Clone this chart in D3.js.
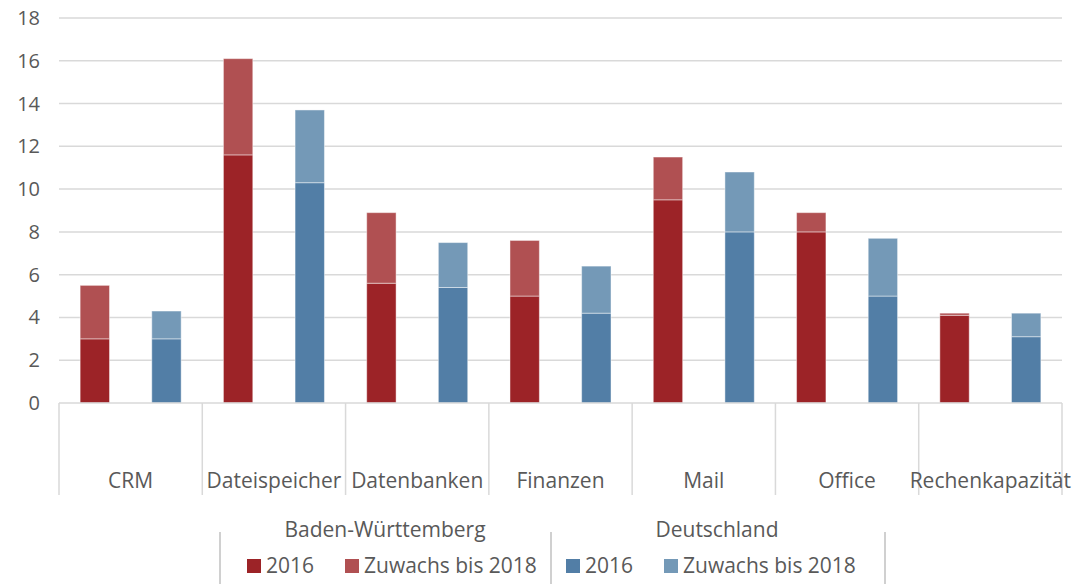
<!DOCTYPE html>
<html>
<head>
<meta charset="utf-8">
<script src="https://cdn.jsdelivr.net/npm/d3@7"></script>
<style>
  body { margin: 0; background: #fff; }
  text { font-family: "Open Sans", "Noto Sans", sans-serif; fill: #595959; }
</style>
</head>
<body>
<div id="chart"></div>
<script>
const categories = ['CRM', 'Dateispeicher', 'Datenbanken', 'Finanzen', 'Mail', 'Office', 'Rechenkapazität']
const bw2016 = [3.0, 11.6, 5.6, 5.0, 9.5, 8.0, 4.1]
const bwZuwachs = [2.5, 4.5, 3.3, 2.6, 2.0, 0.9, 0.1]
const de2016 = [3.0, 10.3, 5.4, 4.2, 8.0, 5.0, 3.1]
const deZuwachs = [1.3, 3.4, 2.1, 2.2, 2.8, 2.7, 1.1]
const yTicks = [0, 2, 4, 6, 8, 10, 12, 14, 16, 18]

const groups = [
  { id: 'bw', label: 'Baden-Württemberg', base: bw2016, growth: bwZuwachs, colors: ['#9c2327', '#b05052'] },
  { id: 'de', label: 'Deutschland', base: de2016, growth: deZuwachs, colors: ['#527ea6', '#7499b7'] }
]

const width = 1073, height = 584
const margin = { top: 18, right: 11, bottom: 181, left: 59 }

const svg = d3.select('#chart')
  .append('svg')
  .attr('width', width)
  .attr('height', height)

const x = d3.scaleBand()
  .domain(categories)
  .range([margin.left, width - margin.right])

const xInner = d3.scaleBand()
  .domain(groups.map(g => g.id))
  .range([0, x.bandwidth()])
  .paddingInner(0.59)
  .paddingOuter(0.295)

const y = d3.scaleLinear()
  .domain([0, 18])
  .range([height - margin.bottom, margin.top])

// grid
svg.append('g')
  .selectAll('line')
  .data(yTicks.slice(1))
  .join('line')
  .attr('x1', margin.left)
  .attr('x2', width - margin.right)
  .attr('y1', d => y(d))
  .attr('y2', d => y(d))
  .attr('stroke', '#d9d9d9')
  .attr('stroke-width', 1.5)

// y axis labels
svg.append('g')
  .selectAll('text')
  .data(yTicks)
  .join('text')
  .attr('x', 40)
  .attr('y', d => y(d))
  .attr('dy', '0.35em')
  .attr('text-anchor', 'end')
  .style('font-size', '20px')
  .text(d => d)

// bars
const bars = svg.append('g')
categories.forEach((cat, i) => {
  groups.forEach(g => {
    const segs = [[0, g.base[i]], [g.base[i], g.base[i] + g.growth[i]]]
    bars.selectAll(null)
      .data(segs)
      .join('rect')
      .attr('x', x(cat) + xInner(g.id))
      .attr('width', xInner.bandwidth())
      .attr('y', d => y(d[1]))
      .attr('height', d => y(d[0]) - y(d[1]))
      .attr('fill', (d, k) => g.colors[k])
      .attr('stroke', 'rgba(255,255,255,0.45)')
      .attr('stroke-width', 1)
  })
})

// x axis (category box lines)
const axisBottom = height - margin.bottom
const xAxis = svg.append('g')
xAxis.append('line')
  .attr('x1', margin.left)
  .attr('x2', width - margin.right)
  .attr('y1', axisBottom)
  .attr('y2', axisBottom)
  .attr('stroke', '#d9d9d9')
  .attr('stroke-width', 1.5)

xAxis.selectAll('line.sep')
  .data(categories.map(c => x(c)).concat([x.range()[1]]))
  .join('line')
  .attr('class', 'sep')
  .attr('x1', d => d)
  .attr('x2', d => d)
  .attr('y1', axisBottom)
  .attr('y2', axisBottom + 92)
  .attr('stroke', '#d9d9d9')
  .attr('stroke-width', 1.5)

xAxis.selectAll('text')
  .data(categories)
  .join('text')
  .attr('x', d => x(d) + x.bandwidth() / 2)
  .attr('y', 488)
  .attr('text-anchor', 'middle')
  .style('font-size', '21px')
  .text(d => d)

// legend
const legend = svg.append('g')
const legendSeps = [220, 551, 885]
legend.selectAll('line')
  .data(legendSeps)
  .join('line')
  .attr('x1', d => d)
  .attr('x2', d => d)
  .attr('y1', 532)
  .attr('y2', height)
  .attr('stroke', '#d0d0d0')
  .attr('stroke-width', 2)

const groupPos = [
  { cx: 385, items: [247, 345] },
  { cx: 717, items: [566, 664] }
]
const itemLabels = ['2016', 'Zuwachs bis 2018']

groups.forEach((g, gi) => {
  legend.append('text')
    .attr('x', groupPos[gi].cx)
    .attr('y', 537)
    .attr('text-anchor', 'middle')
    .style('font-size', '21px')
    .text(g.label)
  groupPos[gi].items.forEach((lx, k) => {
    legend.append('rect')
      .attr('x', lx)
      .attr('y', 559)
      .attr('width', 14)
      .attr('height', 14)
      .attr('fill', g.colors[k])
    legend.append('text')
      .attr('x', lx + 19)
      .attr('y', 573)
      .style('font-size', '21px')
      .text(itemLabels[k])
  })
})
</script>
</body>
</html>
